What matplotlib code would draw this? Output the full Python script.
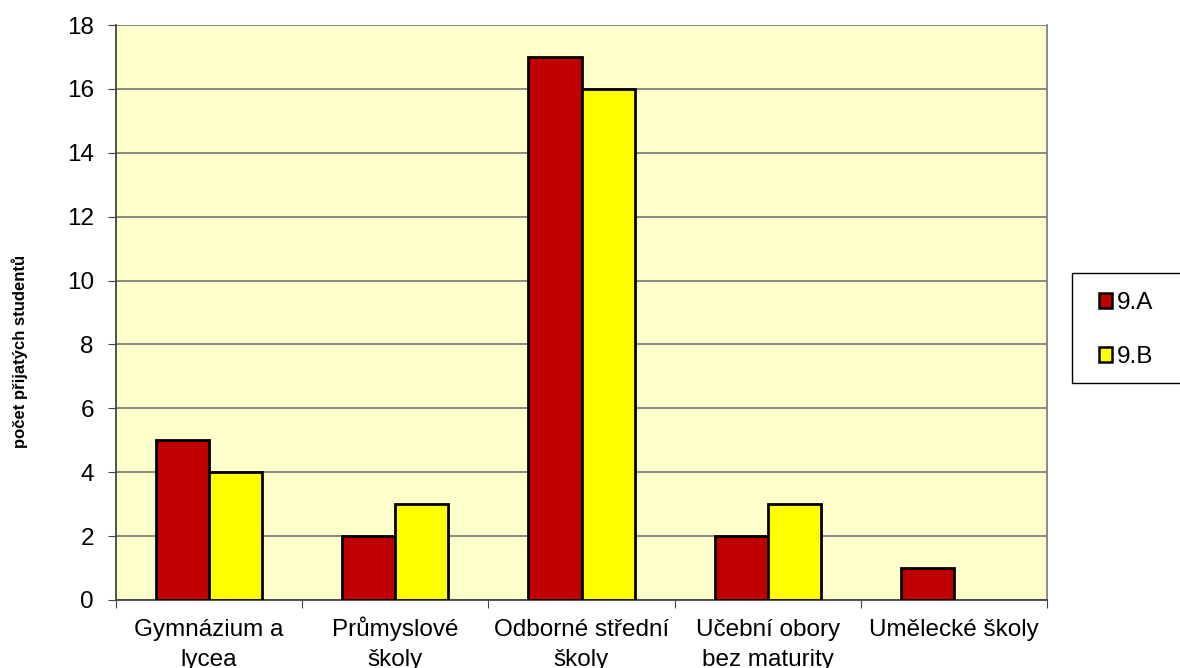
import numpy as np
import matplotlib
matplotlib.use("Agg")
import matplotlib.pyplot as plt
import matplotlib.transforms as mtransforms
from matplotlib.patches import Patch, Rectangle

plt.rcParams["font.family"] = ["Liberation Sans", "DejaVu Sans"]

# data
categories = ["Gymnázium a\nlycea", "Průmyslové\nškoly", "Odborné střední\nškoly",
              "Učební obory\nbez maturity", "Umělecké školy"]
class_a = [5, 2, 17, 2, 1]
class_b = [4, 3, 16, 3, 0]
series_names = ["9.A", "9.B"]
colors = ["#C00000", "#FFFF00"]

W, H = 1180, 668
fig = plt.figure(figsize=(W / 100, H / 100), dpi=100)
ax = fig.add_axes([116 / W, 68 / H, (1047 - 116) / W, 575 / H])
ax.set_facecolor("#FFFFCC")

x = np.arange(len(categories))
w = 0.285
for vals, off, c in [(class_a, -w / 2, colors[0]), (class_b, w / 2, colors[1])]:
    bars = ax.bar(x + off, vals, width=w, color=c, edgecolor="black", linewidth=2, zorder=3)
    for b, v in zip(bars, vals):
        if v == 0:
            b.set_visible(False)

ax.set_xlim(-0.5, len(categories) - 0.5)
ax.set_ylim(0, 18)
ax.set_yticks(range(0, 19, 2))
ax.yaxis.grid(True, color="#808080", linewidth=1.3, zorder=0)

# ticks on category boundaries
ax.set_xticks(np.arange(-0.5, len(categories)))
ax.set_xticklabels([])
ax.tick_params(axis="x", which="major", length=6, color="#444444")
ax.tick_params(axis="y", length=6, labelsize=17.5, pad=10, color="#444444")

# category labels: each line on its own baseline so accents don't shift them
base = ax.get_xaxis_transform()
for xi, lab in zip(x, categories):
    for i, line in enumerate(lab.split("\n")):
        tr = mtransforms.offset_copy(base, fig=fig, x=0, y=-(36 + 30 * i) * 0.72,
                                     units="points")
        ax.text(xi, 0, line, transform=tr, ha="center", va="baseline",
                fontsize=17.5, clip_on=False)

ax.spines["top"].set_visible(False)
ax.spines["right"].set_color("#808080")
ax.spines["right"].set_linewidth(1.3)
for s in ["left", "bottom"]:
    ax.spines[s].set_color("#444444")
    ax.spines[s].set_linewidth(1.3)

fig.text(20 / W, 1 - 351 / H, "počet přijatých studentů", rotation=90, fontsize=12,
         fontweight="bold", ha="center", va="center")

# legend frame runs off the right edge
fig.patches.append(Rectangle((1072 / W, 1 - 383 / H), 120 / W, 110 / H,
                             transform=fig.transFigure, facecolor="white",
                             edgecolor="black", linewidth=1.0))
handles = [Patch(facecolor=c, edgecolor="black", linewidth=1.8) for c in colors]
leg = fig.legend(handles, series_names, loc="center left",
                 bbox_to_anchor=(1099 / W, 1 - 330 / H), fontsize=17.5,
                 frameon=False, handlelength=0.55, handleheight=0.55,
                 handletextpad=0.2, labelspacing=1.3, borderpad=0,
                 borderaxespad=0)

fig.savefig("out.png", dpi=100)
